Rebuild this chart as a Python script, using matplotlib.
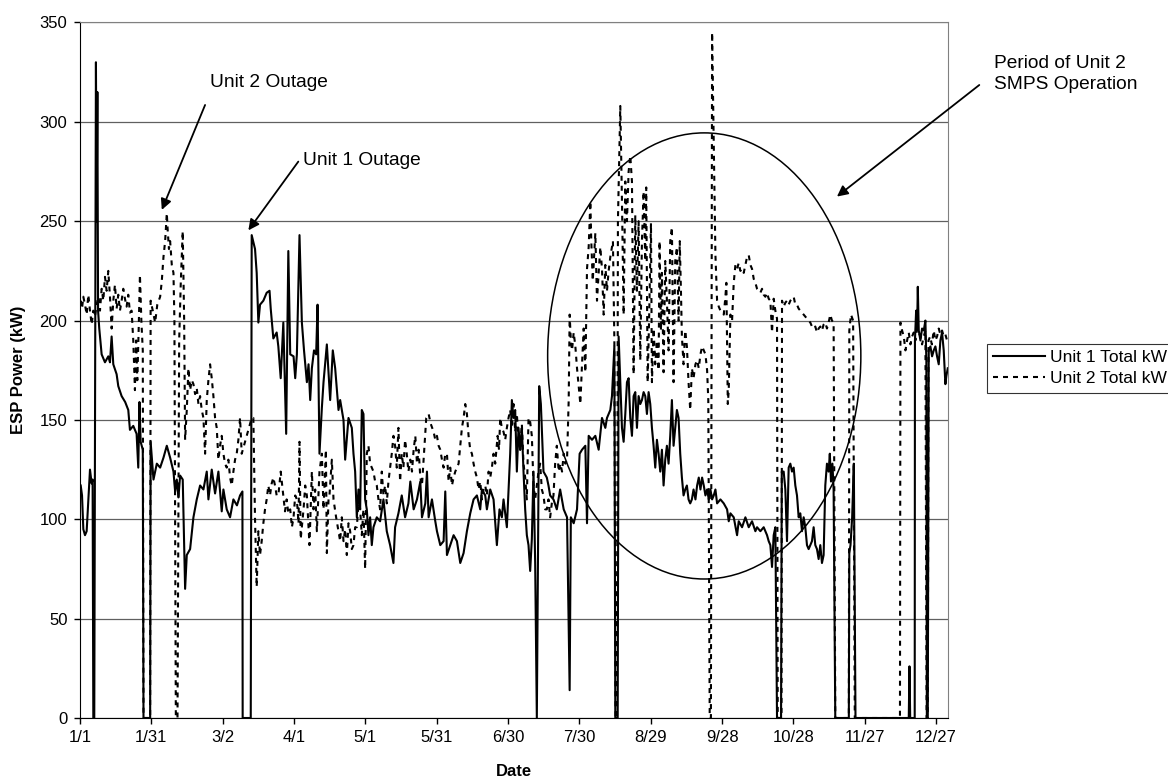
import matplotlib
matplotlib.use("Agg")
import matplotlib.pyplot as plt
from matplotlib.patches import Ellipse

plt.rcParams["font.family"] = ["Liberation Sans", "DejaVu Sans"]

# ---------------------------
# Data (day of year from 1/1, kW)
# ---------------------------
u1_day = [
    0.3, 0.85, 1.4, 2.1, 2.8, 3.5, 4.2, 4.9, 5.3, 5.6, 6.0, 6.5, 6.7, 7.0, 7.3, 7.6,
    8.1, 9.1, 10.5, 11.9, 12.6, 13.3, 14.0, 15.4, 16.1, 17.5, 19.0, 20.3, 21.0, 22.4,
    23.8, 24.5, 25.0, 25.5, 26.4, 26.7, 29.5, 29.7, 30.9, 32.3, 33.7, 35.1, 36.5, 37.9,
    39.3, 40.0, 40.7, 41.4, 42.1, 43.2, 44.2, 44.9, 46.3, 47.7, 49.1, 50.5, 51.9, 53.3,
    54.0, 55.4, 56.8, 58.2, 59.6, 60.3, 61.7, 63.1, 64.5, 66.0, 67.3, 68.3, 68.4, 71.8,
    72.2, 73.6, 74.3, 75.0, 75.7, 77.1, 78.5, 79.7, 80.2, 81.3, 82.7, 83.4, 84.4, 85.5,
    86.7, 87.6, 88.4, 89.8, 90.5, 91.2, 92.3, 93.3, 94.2, 95.4, 96.1, 96.8, 97.5, 98.4,
    99.3, 99.9, 100.7, 101.7, 102.4, 103.8, 104.5, 105.2, 106.3, 107.3, 108.7, 109.4,
    110.8, 111.5, 112.9, 114.3, 115.0, 115.7, 116.4, 117.1, 117.8, 118.5, 119.2, 119.9,
    120.6, 121.3, 122.0, 122.7, 123.4, 124.8, 126.2, 127.6, 129.0, 130.4, 131.8, 132.5,
    133.9, 135.3, 136.7, 138.1, 138.9, 140.3, 141.7, 143.1, 143.8, 145.2, 145.9, 146.6,
    148.0, 149.4, 150.1, 151.5, 152.9, 153.6, 154.3, 155.7, 157.1, 158.5, 159.9, 161.3,
    162.7, 164.1, 165.5, 166.9, 168.3, 169.0, 170.4, 171.1, 172.5, 173.9, 175.3, 176.4,
    177.4, 178.1, 179.5, 180.2, 180.9, 181.6, 182.3, 183.0, 183.7, 184.4, 185.1, 185.8,
    186.5, 187.2, 187.9, 188.6, 189.3, 190.0, 190.7, 191.4, 192.1, 193.1, 193.8, 194.9,
    196.3, 197.0, 197.7, 199.1, 200.5, 201.9, 203.4, 204.8, 205.9, 206.4, 207.6, 209.0,
    210.1, 211.1, 212.5, 213.2, 213.9, 215.3, 216.7, 218.1, 219.5, 220.9, 221.6, 223.0,
    223.7, 224.7, 225.1, 226.1, 226.5, 227.2, 227.9, 228.6, 229.3, 230.0, 230.7, 231.4,
    232.1, 232.8, 233.5, 234.2, 234.9, 235.6, 236.3, 237.0, 237.7, 238.4, 239.1, 239.8,
    240.5, 241.2, 241.9, 242.6, 243.3, 244.0, 244.7, 245.4, 246.1, 246.8, 247.5, 248.2,
    248.9, 249.6, 250.3, 251.0, 251.7, 252.4, 253.1, 253.8, 254.5, 255.2, 255.9, 256.6,
    257.3, 258.0, 258.8, 259.5, 260.2, 260.9, 261.6, 262.3, 263.0, 263.7, 264.4, 265.1,
    265.8, 266.5, 267.2, 267.9, 269.3, 270.7, 272.1, 272.8, 273.5, 274.9, 276.3, 277.0,
    278.4, 279.8, 281.2, 282.6, 284.0, 284.7, 286.1, 287.5, 288.9, 289.6, 290.3, 291.0,
    291.7, 292.4, 293.1, 294.8, 295.1, 295.9, 296.6, 297.3, 298.0, 298.7, 299.4, 300.1,
    300.8, 301.5, 302.2, 302.9, 303.6, 304.3, 305.0, 305.7, 306.4, 307.1, 307.8, 308.5,
    309.2, 309.9, 310.6, 311.3, 312.0, 312.7, 313.4, 314.1, 314.8, 315.3, 315.8, 316.4,
    316.9, 317.6, 323.3, 323.5, 324.0, 324.7, 325.4, 326.1, 348.5, 348.8, 349.1, 351.0,
    351.1, 351.6, 352.0, 352.3, 352.7, 353.4, 354.1, 354.8, 355.5, 355.9, 356.1, 356.5,
    356.9, 357.6, 358.3, 359.0, 359.7, 360.4, 361.1, 361.8, 362.5, 363.2, 363.9, 364.3,
    364.9,
]
u1_kw = [
    117, 112, 95, 92, 94, 110, 125, 118, 120, 0, 0, 250, 330, 250, 315, 205,
    196, 183, 179, 182, 179, 192, 178, 173, 167, 162, 159, 155, 145, 147,
    143, 126, 159, 139, 135, 0, 0, 139, 120, 128, 126, 131, 137, 131,
    124, 114, 120, 111, 122, 120, 65, 82, 85, 101, 110, 117, 115, 124,
    110, 125, 113, 124, 104, 115, 105, 101, 110, 107, 112, 114, 0, 0,
    243, 236, 224, 199, 208, 210, 214, 215, 206, 191, 194, 187, 171, 199,
    143, 235, 183, 182, 171, 183, 243, 199, 185, 169, 178, 160, 176, 185,
    183, 208, 133, 156, 169, 188, 174, 160, 185, 176, 155, 160,
    150, 130, 151, 146, 133, 124, 101, 115, 105, 155, 153, 110,
    105, 92, 101, 87, 96, 101, 99, 110, 94, 87, 78, 96,
    103, 112, 101, 108, 119, 105, 110, 119, 101, 108, 124, 101,
    110, 99, 94, 87, 89, 114, 82, 87, 92, 89, 78, 83,
    94, 103, 110, 112, 105, 115, 112, 105, 115, 110, 87, 105,
    101, 110, 96, 115, 133, 160, 151, 155, 124, 146, 135, 146,
    124, 105, 92, 87, 74, 90, 124, 78, 0, 167, 158, 124,
    121, 117, 112, 110, 105, 115, 105, 101, 14, 101, 98, 105,
    133, 135, 137, 98, 142, 140, 142, 135, 151, 146, 151, 155,
    162, 187, 0, 0, 192, 169, 146, 139, 153, 169, 171, 151,
    142, 162, 164, 146, 162, 158, 160, 164, 162, 153, 164, 158,
    146, 137, 126, 140, 133, 124, 135, 117, 130, 137, 128, 142,
    160, 137, 146, 155, 151, 133, 121, 112, 115, 117, 110, 108,
    110, 115, 110, 117, 121, 115, 121, 117, 112, 115, 110, 115,
    110, 112, 115, 108, 110, 108, 105, 99, 103, 101, 92, 99,
    96, 101, 96, 99, 94, 96, 94, 96, 92, 89, 87, 76,
    92, 96, 0, 0, 124, 124, 115, 89, 126, 128, 124, 126,
    117, 112, 101, 103, 94, 101, 96, 87, 85, 87, 89, 96,
    87, 85, 80, 87, 78, 82, 117, 128, 124, 133, 119, 128,
    115, 0, 0, 83, 87, 101, 128, 0, 0, 26, 0, 0,
    190, 205, 195, 217, 195, 190, 196, 195, 200, 180, 0, 0,
    185, 187, 182, 185, 187, 182, 178, 190, 194, 185, 168, 172,
    176,
]

u2_day = [
    0.3, 0.85, 1.4, 2.1, 2.8, 3.5, 4.2, 4.9, 5.6, 6.3, 7.0, 7.7, 8.4, 9.1, 9.8, 10.5,
    11.2, 11.9, 12.6, 13.3, 14.0, 14.7, 15.4, 16.1, 16.8, 17.5, 18.2, 18.9, 19.6, 20.3,
    21.0, 21.7, 22.4, 23.1, 23.6, 24.1, 24.7, 25.2, 25.8, 26.4, 26.7, 29.5, 29.7, 30.6,
    31.6, 32.5, 33.7, 34.4, 35.1, 35.8, 36.5, 36.9, 37.4, 37.9, 38.6, 39.3, 39.7, 40.3,
    41.0, 41.7, 42.4, 43.2, 43.8, 44.2, 44.9, 45.6, 46.3, 47.0, 47.7, 48.4, 49.1, 49.8,
    50.5, 51.2, 51.9, 52.6, 53.3, 54.0, 54.7, 55.4, 56.1, 56.8, 57.5, 58.2, 58.9, 59.6,
    60.3, 61.0, 61.7, 62.4, 63.1, 63.8, 64.5, 65.2, 65.9, 66.6, 67.3, 68.0, 72.2, 72.9,
    73.6, 74.3, 75.0, 75.7, 76.4, 77.1, 77.8, 78.5, 79.2, 79.9, 80.6, 81.3, 82.0, 82.7,
    83.4, 84.4, 85.5, 86.2, 86.9, 87.6, 88.4, 89.1, 89.8, 90.5, 91.2, 91.9, 92.3, 92.8,
    94.0, 94.7, 95.4, 96.5, 97.5, 98.2, 98.9, 99.6, 100.7, 101.7, 102.4, 103.4, 103.8,
    104.5, 104.9, 105.9, 106.6, 107.7, 108.7, 109.4, 110.1, 110.8, 111.5, 112.2, 112.9,
    113.6, 114.3, 115.0, 115.7, 116.4, 117.1, 117.8, 118.5, 119.2, 119.9, 120.6, 121.3,
    122.0, 122.7, 123.4, 124.1, 124.8, 125.5, 126.2, 126.9, 127.6, 128.3, 129.0, 129.7,
    130.4, 131.1, 131.8, 132.5, 133.2, 133.9, 134.6, 135.3, 136.0, 136.7, 137.4, 138.1,
    138.9, 139.6, 140.3, 141.0, 141.7, 142.4, 143.1, 143.8, 144.5, 145.6, 146.6, 147.5,
    148.7, 149.4, 150.1, 150.8, 151.5, 152.2, 152.9, 153.6, 154.3, 155.0, 155.7, 156.4,
    157.1, 157.8, 158.5, 159.2, 159.9, 160.6, 161.3, 162.0, 162.7, 163.4, 164.1, 164.8,
    165.5, 166.2, 166.9, 167.6, 168.3, 169.0, 169.7, 170.4, 171.1, 171.8, 172.5, 173.2,
    173.9, 174.6, 175.6, 176.2, 176.7, 177.4, 178.1, 178.8, 179.5, 180.2, 180.9, 181.6,
    182.3, 183.0, 183.7, 184.4, 185.1, 185.8, 186.5, 187.2, 187.9, 188.6, 189.3, 190.0,
    190.7, 191.4, 192.8, 193.5, 194.2, 194.9, 195.6, 196.3, 197.0, 197.7, 198.4, 199.1,
    199.8, 200.5, 201.3, 202.0, 202.7, 203.4, 204.1, 204.8, 205.5, 205.9, 206.4, 206.9,
    207.6, 208.3, 209.0, 209.7, 210.4, 211.1, 211.8, 212.5, 213.2, 213.9, 214.6, 215.0,
    215.6, 216.0, 216.7, 217.4, 218.1, 218.8, 219.5, 220.2, 220.9, 221.6, 222.3, 223.0,
    224.1, 224.7, 225.2, 225.8, 226.2, 226.9, 227.2, 227.9, 228.6, 229.3, 230.0, 230.7,
    231.4, 232.1, 232.8, 233.5, 234.2, 234.9, 235.6, 236.3, 237.0, 237.7, 238.1, 238.7,
    239.3, 240.1, 240.5, 241.2, 241.9, 242.6, 243.3, 243.7, 244.3, 244.7, 245.4, 246.1,
    246.8, 247.5, 248.2, 248.9, 249.6, 250.3, 251.0, 251.7, 252.2, 252.7, 253.1, 253.8,
    254.5, 255.2, 255.9, 256.6, 257.3, 258.0, 258.8, 259.5, 260.2, 260.9, 261.6, 262.3,
    263.0, 263.7, 264.2, 264.8, 265.3, 265.8, 266.5, 267.2, 267.9, 268.6, 269.3, 270.0,
    270.7, 271.4, 271.8, 272.4, 272.8, 273.5, 274.2, 274.9, 275.6, 276.3, 277.0, 277.7,
    278.4, 279.1, 279.8, 280.5, 281.2, 281.9, 282.6, 283.3, 284.0, 284.7, 285.4, 286.1,
    286.8, 287.5, 288.2, 288.9, 289.6, 290.3, 291.0, 291.7, 292.4, 293.1, 293.4, 295.0,
    295.2, 295.9, 296.6, 297.3, 298.0, 298.7, 299.4, 300.1, 300.8, 301.5, 302.2, 302.9,
    303.6, 304.3, 305.0, 305.7, 306.4, 307.1, 307.8, 308.5, 309.2, 309.9, 310.6, 311.3,
    312.0, 312.7, 313.4, 314.1, 314.8, 315.5, 316.2, 316.9, 317.6, 323.3, 323.5, 324.2,
    325.1, 325.8, 344.8, 345.0, 345.7, 346.4, 347.1, 347.8, 348.5, 349.2, 349.9, 350.6,
    351.3, 352.0, 352.7, 353.4, 354.1, 354.8, 355.5, 356.0, 356.5, 356.8, 357.5, 358.2,
    359.0, 359.7, 360.4, 361.1, 361.8, 362.5, 363.2, 363.9, 364.6,
]
u2_kw = [
    210, 206, 212, 208, 203, 213, 205, 198, 205, 202, 208, 212, 205, 216, 210, 222,
    215, 225, 212, 196, 210, 218, 206, 213, 205, 210, 216, 211, 207, 213,
    204, 205, 190, 165, 190, 170, 197, 223, 200, 185, 0, 0, 210, 205,
    199, 208, 212, 220, 232, 240, 254, 245, 236, 240, 228, 224, 200, 0,
    0, 190, 220, 245, 200, 140, 155, 176, 165, 170, 168, 163, 166, 158,
    162, 155, 151, 133, 160, 170, 178, 171, 162, 151, 146, 130, 137, 142,
    133, 128, 126, 130, 121, 117, 124, 130, 133, 140, 151, 133, 151, 151,
    100, 66, 94, 82, 89, 98, 105, 110, 117, 112, 118, 121, 117, 112,
    112, 124, 112, 104, 110, 103, 105, 96, 101, 112, 110, 98, 139, 90,
    105, 117, 112, 87, 124, 105, 115, 94, 124, 133, 105, 135, 83,
    110, 112, 130, 110, 101, 94, 89, 101, 89, 95, 82, 98,
    94, 85, 87, 96, 96, 108, 105, 92, 105, 75, 133, 137,
    128, 126, 124, 119, 117, 110, 105, 124, 112, 117, 108, 119,
    126, 133, 142, 137, 126, 146, 119, 133, 126, 140, 133, 124,
    130, 124, 135, 142, 128, 135, 121, 117, 130, 151, 153, 148,
    144, 140, 142, 137, 135, 130, 126, 133, 133, 119, 126, 117,
    121, 124, 126, 128, 137, 146, 151, 158, 153, 142, 135, 133,
    128, 124, 121, 115, 119, 110, 115, 117, 112, 124, 121, 126,
    133, 128, 142, 135, 151, 146, 144, 140, 146, 151, 155, 146,
    158, 144, 153, 140, 135, 148, 128, 121, 110, 151, 149, 142,
    117, 110, 124, 128, 115, 112, 105, 105, 110, 101, 108, 112,
    128, 137, 124, 128, 124, 133, 128, 130, 160, 203, 190, 185,
    194, 187, 176, 167, 158, 178, 196, 174, 226, 237, 260, 240,
    220, 228, 244, 210, 224, 237, 226, 203, 228, 215, 225, 232,
    240, 190, 0, 0, 250, 290, 308, 260, 203, 270, 250, 275,
    283, 270, 173, 253, 215, 250, 180, 240, 265, 230, 267, 169,
    200, 249, 169, 196, 178, 190, 175, 240, 195, 224, 174, 230,
    210, 185, 240, 247, 169, 230, 237, 200, 240, 215, 192, 178,
    195, 187, 169, 155, 176, 171, 178, 180, 176, 183, 187, 185,
    183, 175, 160, 0, 0, 345, 290, 233, 210, 207, 205, 204,
    203, 212, 219, 158, 165, 203, 200, 219, 228, 226, 229, 225,
    226, 224, 228, 232, 233, 228, 226, 221, 219, 216, 215, 214,
    216, 213, 212, 214, 211, 210, 194, 211, 205, 201, 0, 0,
    210, 207, 209, 210, 208, 210, 211, 212, 208, 208, 206, 205,
    204, 203, 202, 201, 200, 199, 197, 196, 197, 194, 196, 197,
    195, 198, 199, 196, 199, 203, 200, 199, 0, 0, 195, 203,
    200, 0, 0, 199, 195, 192, 185, 190, 194, 188, 192, 194,
    190, 196, 194, 192, 188, 192, 195, 0, 0, 190, 192, 188,
    195, 190, 192, 196, 193, 195, 192, 193, 190,
]

tick_days = [0, 30, 60, 90, 120, 150, 180, 210, 240, 270, 300, 330, 360]
tick_labels = ["1/1", "1/31", "3/2", "4/1", "5/1", "5/31", "6/30",
               "7/30", "8/29", "9/28", "10/28", "11/27", "12/27"]

# ---------------------------
# Figure
# ---------------------------
W, H = 1168, 781
fig = plt.figure(figsize=(W / 100, H / 100), dpi=100)
ax = fig.add_axes([80 / W, 63 / H, 868 / W, 695.5 / H])

ax.plot(u1_day, u1_kw, color="black", lw=1.5, label="Unit 1 Total kW")
ax.plot(u2_day, u2_kw, color="black", lw=1.5, linestyle=(0, (2.4, 2.4)),
        label="Unit 2 Total kW")

ax.set_xlim(0, 365)
ax.set_ylim(0, 350)
ax.set_yticks(range(0, 351, 50))
ax.set_xticks(tick_days)
ax.set_xticklabels(tick_labels)
ax.tick_params(direction="out", length=4, width=1, labelsize=12, pad=5)
ax.yaxis.grid(True, color="#606060", lw=0.9)
ax.set_axisbelow(True)
for side in ["top", "right"]:
    ax.spines[side].set_color("#808080")
ax.spines["left"].set_color("black")
ax.spines["bottom"].set_color("black")

ax.set_xlabel("Date", fontsize=12, fontweight="bold", labelpad=13)
ax.set_ylabel("ESP Power (kW)", fontsize=12, fontweight="bold", labelpad=10)

# circle marking SMPS period
ax.add_patch(Ellipse((262.5, 182.2), 131.7, 224.5, fill=False,
                     edgecolor="black", lw=1.1))

arrow = dict(arrowstyle="-|>", color="black", lw=1.3, mutation_scale=16,
             shrinkA=0, shrinkB=0)
ax.text(54.7, 319.7, "Unit 2 Outage", fontsize=13.8, va="center", ha="left")
ax.annotate("", xy=(34.4, 255.7), xytext=(52.6, 308.5), arrowprops=arrow)
ax.text(93.9, 280.8, "Unit 1 Outage", fontsize=13.8, va="center", ha="left")
ax.annotate("", xy=(70.8, 245.4), xytext=(91.8, 280.0), arrowprops=arrow)

fig.text(994 / W, 1 - 74 / H, "Period of Unit 2\nSMPS Operation", fontsize=13.8,
         va="center", ha="left", linespacing=1.3)
ax.annotate("", xy=(318.3, 262.4), xytext=(979.3, H - 85),
            textcoords="figure pixels", arrowprops=arrow, annotation_clip=False)

leg = fig.legend(loc="upper left", bbox_to_anchor=(987 / W, 1 - 344 / H),
                 fontsize=12.5, frameon=True, fancybox=False, edgecolor="black",
                 handlelength=3.0, handletextpad=0.3, borderpad=0.35,
                 labelspacing=0.35, borderaxespad=0)
leg.get_frame().set_linewidth(0.8)

fig.savefig("out.png", dpi=100)
